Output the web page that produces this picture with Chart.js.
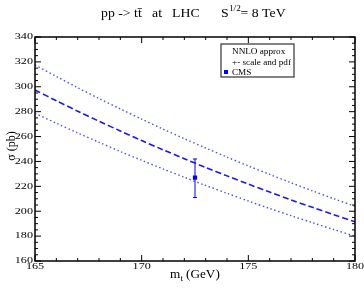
<!DOCTYPE html>
<html>
<head>
<meta charset="utf-8">
<script src="https://cdn.jsdelivr.net/npm/chart.js@4.4.0/dist/chart.umd.min.js"></script>
<style>
  body { margin: 0; background: #fff; }
  #wrap { width: 364px; height: 291px; }
</style>
</head>
<body>
<div id="wrap"><canvas id="xsChart"></canvas></div>
<script>
// top mass (GeV)
let masses = [165, 166, 167, 168, 169, 170, 171, 172, 173, 174, 175, 176, 177, 178, 179, 180];

// NNLO approx cross section (pb), central and scale+pdf band
let central = [297.4, 288.8, 280.4, 272.3, 264.5, 256.8, 249.4, 242.2, 235.2, 228.4, 221.8, 215.4, 209.1, 203.1, 197.2, 191.5];
let upper = [317.5, 308.3, 299.3, 290.6, 282.2, 274.0, 266.0, 258.3, 250.8, 243.5, 236.4, 229.6, 222.9, 216.4, 210.1, 204.0];
let lower = [278.7, 270.7, 262.9, 255.4, 248.0, 240.9, 234.0, 227.3, 220.7, 214.4, 208.2, 202.2, 196.4, 190.8, 185.3, 180.0];

// CMS measurement
let cmsMass = [172.5];
let cmsXs = [227];
let cmsLow = [211];
let cmsHigh = [242];

// axes
let xTicks = [165, 170, 175, 180];
let yTicks = [160, 180, 200, 220, 240, 260, 280, 300, 320, 340];

const serif = "'Liberation Serif', 'DejaVu Serif', serif";

function pts(ys) {
    return masses.map((m, i) => ({ x: m, y: ys[i] }));
}

// text a bit wider than normal, like the original rendering
function txt(c, s, x, y, size, sx, align) {
    c.save();
    c.font = size + 'px ' + serif;
    c.textAlign = align || 'left';
    c.translate(x, y);
    c.scale(sx, 1);
    c.fillText(s, 0, 0);
    c.restore();
}

// frame, inward ticks, labels, legend, titles, error bar
const decor = {
    id: 'decor',
    beforeDatasetsDraw(chart) {
        const c = chart.ctx, xs = chart.scales.x, ys = chart.scales.y;
        c.save();
        c.strokeStyle = '#0000ff';
        c.lineWidth = 1;
        for (let i = 0; i < cmsMass.length; i++) {
            const px = xs.getPixelForValue(cmsMass[i]);
            const t = ys.getPixelForValue(cmsHigh[i]);
            const b = ys.getPixelForValue(cmsLow[i]);
            c.beginPath();
            c.moveTo(px, t); c.lineTo(px, b);
            c.moveTo(px - 2, t); c.lineTo(px + 2, t);
            c.moveTo(px - 2, b); c.lineTo(px + 2, b);
            c.stroke();
        }
        c.restore();
    },
    afterDraw(chart) {
        const c = chart.ctx, a = chart.chartArea;
        const xs = chart.scales.x, ys = chart.scales.y;
        c.save();
        c.strokeStyle = '#000';
        c.lineWidth = 1.5;
        c.strokeRect(a.left, a.top, a.right - a.left, a.bottom - a.top);

        c.lineWidth = 1;
        c.beginPath();
        for (let v = 165; v <= 180; v += 1) {
            const px = xs.getPixelForValue(v);
            const len = v % 5 === 0 ? 6 : 3;
            c.moveTo(px, a.bottom); c.lineTo(px, a.bottom - len);
            c.moveTo(px, a.top); c.lineTo(px, a.top + len);
        }
        for (let v = 160; v <= 340; v += 5) {
            const py = ys.getPixelForValue(v);
            const len = v % 20 === 0 ? 6 : 3;
            c.moveTo(a.left, py); c.lineTo(a.left + len, py);
            c.moveTo(a.right, py); c.lineTo(a.right - len, py);
        }
        c.stroke();

        // tick labels
        c.fillStyle = '#000';
        c.textBaseline = 'middle';
        xTicks.forEach(v => txt(c, String(v), xs.getPixelForValue(v), 267, 9, 1.35, 'center'));
        yTicks.forEach(v => txt(c, String(v), a.left - 2, ys.getPixelForValue(v), 9, 1.35, 'right'));
        c.textBaseline = 'alphabetic';

        // legend box
        c.strokeStyle = '#333';
        c.lineWidth = 1.2;
        c.strokeRect(221, 44, 73, 33);
        txt(c, 'NNLO approx', 232, 54, 8.5, 1.08);
        txt(c, '+- scale and pdf', 232, 64.5, 8.5, 1.08);
        txt(c, 'CMS', 232, 75, 8.5, 1.08);
        c.fillStyle = '#0000ff';
        c.fillRect(224, 70, 4, 4);

        // title
        c.fillStyle = '#000';
        txt(c, 'pp -> tt\u0304', 101, 17, 11.5, 1.2);
        txt(c, 'at', 152, 17, 11.5, 1.2);
        txt(c, 'LHC', 172, 17, 11.5, 1.2);
        txt(c, 'S', 221, 17, 11.5, 1.2);
        txt(c, '1/2', 229, 11, 8, 1.15);
        txt(c, '= 8 TeV', 240.5, 17, 11.5, 1.2);

        // x title
        txt(c, 'm', 170, 278, 11.5, 1.15);
        txt(c, 't', 180.5, 281, 8, 1.15);
        txt(c, '(GeV)', 186, 278, 11.5, 1.15);

        // y title
        c.translate(15, 146);
        c.rotate(-Math.PI / 2);
        txt(c, '\u03c3 (pb)', 0, 0, 11.5, 1.05, 'center');
        c.restore();
    }
};

const ctx = document.getElementById('xsChart');

const xsChart = new Chart(ctx, {
    type: 'line',
    data: {
        datasets: [{
            label: 'CMS',
            type: 'scatter',
            data: cmsMass.map((m, i) => ({ x: m, y: cmsXs[i] })),
            pointStyle: 'rect',
            pointRadius: 3,
            backgroundColor: '#0000ff',
            borderColor: '#0000ff',
            borderWidth: 0
        }, {
            label: 'NNLO approx',
            data: pts(central),
            borderColor: '#1a1af0',
            borderWidth: 1.6,
            borderDash: [6, 3],
            pointRadius: 0,
            tension: 0.3
        }, {
            label: 'upper',
            data: pts(upper),
            borderColor: '#4d4dff',
            borderWidth: 1.4,
            borderDash: [1.5, 2.6],
            pointRadius: 0,
            tension: 0.3
        }, {
            label: 'lower',
            data: pts(lower),
            borderColor: '#4d4dff',
            borderWidth: 1.4,
            borderDash: [1.5, 2.6],
            pointRadius: 0,
            tension: 0.3
        }]
    },
    options: {
        responsive: true,
        maintainAspectRatio: false,
        animation: false,
        layout: { padding: { top: 37, right: 9, left: 0, bottom: 0 } },
        plugins: {
            legend: { display: false },
            tooltip: { enabled: false }
        },
        scales: {
            x: {
                type: 'linear',
                min: 165,
                max: 180,
                afterFit: s => { s.height = 30; },
                afterBuildTicks: s => { s.ticks = xTicks.map(v => ({ value: v })); },
                grid: { display: false, drawTicks: false },
                border: { display: false },
                ticks: { display: false }
            },
            y: {
                min: 160,
                max: 340,
                afterFit: s => { s.width = 35; },
                afterBuildTicks: s => { s.ticks = yTicks.map(v => ({ value: v })); },
                grid: { display: false, drawTicks: false },
                border: { display: false },
                ticks: { display: false }
            }
        }
    },
    plugins: [decor]
});
</script>
</body>
</html>
